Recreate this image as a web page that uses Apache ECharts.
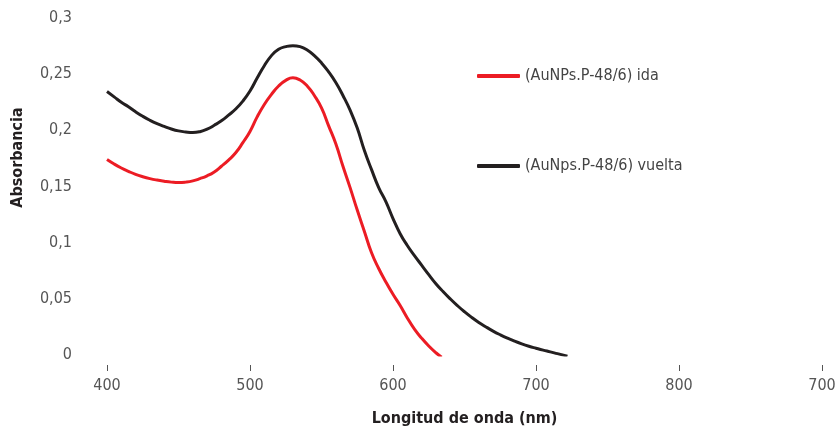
<!DOCTYPE html>
<html>
<head>
<meta charset="utf-8">
<script src="https://cdn.jsdelivr.net/npm/echarts@6/dist/echarts.min.js"></script>
<style>html,body{margin:0;padding:0;background:#fff}#c{width:840px;height:431px}</style>
</head>
<body>
<div id="c"></div>
<script>
const xTickLabels = ['400', '500', '600', '700', '800', '700'];
const yTickLabels = ['0', '0,05', '0,1', '0,15', '0,2', '0,25', '0,3'];
const seriesNames = ['(AuNPs.P-48/6) ida', '(AuNps.P-48/6) vuelta'];
const idaX = [400, 405, 410, 415, 420, 425, 430, 435, 440, 445, 450, 455, 460, 465, 470, 475, 480, 485, 490, 495, 500, 505, 510, 515, 520, 525, 530, 535, 540, 545, 550, 555, 560, 565, 570, 575, 580, 585, 590, 595, 600, 605, 610, 615, 620, 625, 630, 634];
const idaY = [0.174, 0.170, 0.1665, 0.1635, 0.1608, 0.1587, 0.157, 0.1557, 0.1547, 0.1539, 0.1535, 0.1539, 0.155, 0.157, 0.1595, 0.163, 0.168, 0.1735, 0.180, 0.189, 0.199, 0.212, 0.223, 0.232, 0.2395, 0.2445, 0.2468, 0.2448, 0.2395, 0.231, 0.220, 0.204, 0.188, 0.168, 0.149, 0.129, 0.110, 0.091, 0.077, 0.065, 0.054, 0.044, 0.033, 0.023, 0.015, 0.008, 0.002, -0.002];
const vueltaX = [400, 405, 410, 415, 420, 425, 430, 435, 440, 445, 450, 455, 460, 465, 470, 475, 480, 485, 490, 495, 500, 505, 510, 515, 520, 525, 530, 535, 540, 545, 550, 555, 560, 565, 570, 575, 580, 585, 590, 595, 600, 605, 610, 615, 620, 625, 630, 635, 640, 645, 650, 655, 660, 665, 670, 675, 680, 685, 690, 695, 700, 705, 710, 715, 722];
const vueltaY = [0.2345, 0.2298, 0.225, 0.221, 0.2165, 0.2125, 0.209, 0.206, 0.2035, 0.2012, 0.1995, 0.1985, 0.198, 0.1988, 0.201, 0.2045, 0.2085, 0.2135, 0.219, 0.226, 0.235, 0.2465, 0.2575, 0.2665, 0.2722, 0.2745, 0.2754, 0.2745, 0.2715, 0.2665, 0.260, 0.252, 0.2425, 0.231, 0.218, 0.202, 0.182, 0.165, 0.149, 0.1365, 0.1215, 0.108, 0.0975, 0.0885, 0.080, 0.0715, 0.0635, 0.0565, 0.050, 0.044, 0.0385, 0.0335, 0.029, 0.025, 0.0213, 0.018, 0.015, 0.0123, 0.0099, 0.0078, 0.006, 0.0043, 0.0028, 0.0012, -0.001];

const FONT = '"DejaVu Sans Condensed", "Liberation Sans Narrow", sans-serif';
const chart = echarts.init(document.getElementById('c'));
chart.setOption({
  animation: false,
  grid: [
    {left: 107, right: 18, top: 18, bottom: 76, containLabel: false, outerBoundsMode: 'none'},
    {left: 107, right: 18, top: 18, bottom: 66, containLabel: false, outerBoundsMode: 'none'}
  ],
  legend: {
    orient: 'vertical', left: 472, top: 63, itemGap: 74,
    icon: 'roundRect', itemWidth: 43, itemHeight: 4,
    textStyle: {fontFamily: FONT, fontSize: 16, color: '#444'},
    data: seriesNames
  },
  xAxis: [
    {gridIndex: 0, type: 'value', min: 400, max: 900, interval: 100, show: false},
    {gridIndex: 1, type: 'value', min: 400, max: 900, interval: 100,
     name: 'Longitud de onda (nm)', nameLocation: 'middle', nameGap: 46,
     nameTextStyle: {fontFamily: FONT, fontSize: 16, fontWeight: 'bold', color: '#231f20'},
     axisLine: {show: false},
     axisTick: {show: true, length: 6, inside: false, lineStyle: {color: '#555', width: 1}},
     axisLabel: {fontFamily: FONT, fontSize: 16, color: '#555', margin: 13,
       formatter: v => xTickLabels[Math.round((v - 400) / 100)] || ''},
     splitLine: {show: false}}
  ],
  yAxis: [
    {gridIndex: 0, type: 'value', min: 0, max: 0.3, interval: 0.05,
     name: 'Absorbancia', nameLocation: 'middle', nameGap: 81, nameRotate: 90,
     nameTextStyle: {fontFamily: FONT, fontSize: 16, fontWeight: 'bold', color: '#231f20', padding: [0, 0, 0, 58]},
     axisLine: {show: false}, axisTick: {show: false},
     axisLabel: {fontFamily: FONT, fontSize: 16, color: '#555', margin: 35,
       formatter: v => yTickLabels[Math.round(v / 0.05)]},
     splitLine: {show: false}},
    {gridIndex: 1, type: 'value', min: 0, max: 0.3, interval: 0.05, show: false}
  ],
  series: [
    {name: seriesNames[0], type: 'line', smooth: 0.5, symbol: 'none', xAxisIndex: 0, yAxisIndex: 0,
     lineStyle: {color: '#ec1c24', width: 3}, itemStyle: {color: '#ec1c24'},
     data: idaX.map((x, i) => [x, idaY[i]])},
    {name: seriesNames[1], type: 'line', smooth: 0.5, symbol: 'none', xAxisIndex: 0, yAxisIndex: 0,
     lineStyle: {color: '#231f20', width: 3}, itemStyle: {color: '#231f20'},
     data: vueltaX.map((x, i) => [x, vueltaY[i]])}
  ]
});
</script>
</body>
</html>
